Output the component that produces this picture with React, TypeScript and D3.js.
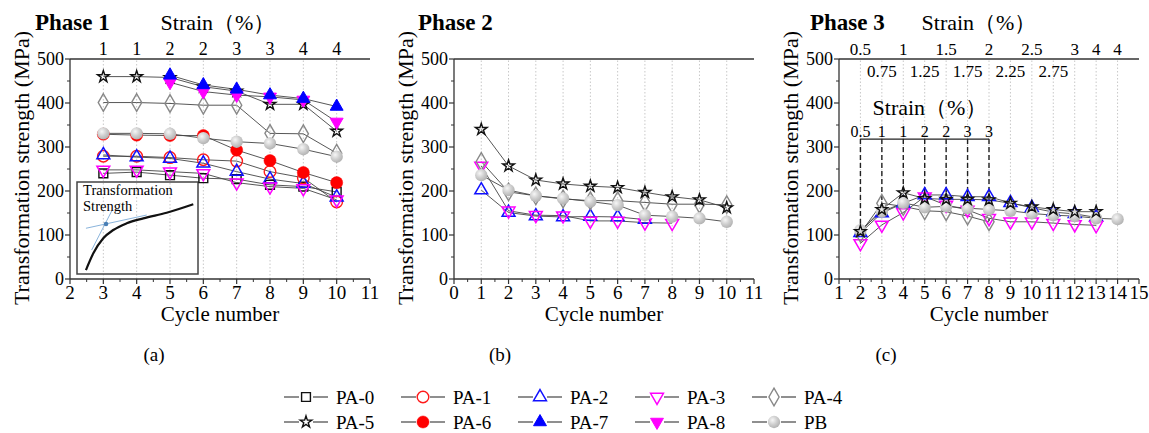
import React from 'react';
import * as d3 from 'd3';

const W = 1149;
const H = 433;
const FONT = 'Liberation Serif';

// ---------- Phase 1 ----------
const p1Cycles = [3, 4, 5, 6, 7, 8, 9, 10];
const p1Strain = ['1', '1', '2', '2', '3', '3', '4', '4'];
const p1PA0 = [240, 243, 236, 229, 227, 214, 210, 198];
const p1PA1 = [279, 279, 276, 271, 268, 244, 230, 175];
const p1PA2 = [282, 277, 274, 263, 244, 227, 217, 186];
const p1PA3 = [248, 248, 244, 240, 219, 210, 206, 180];
const p1PA4 = [401, 401, 399, 395, 395, 331, 330, 286];
const p1PA5 = [460, 460, 458, 437, 427, 397, 397, 336];
const p1PA6 = [329, 327, 326, 326, 293, 269, 242, 219];
const p1PA7 = [null, null, 463, 441, 431, 418, 410, 392];
const p1PA8 = [null, null, 447, 426, 418, 414, 407, 357];
const p1PB = [331, 331, 330, 320, 312, 308, 295, 278];

// ---------- Phase 2 ----------
const p2Cycles = [1, 2, 3, 4, 5, 6, 7, 8, 9, 10];
const p2PA2 = [202, 151, 143, 141, 142, 141, 135, null, null, null];
const p2PA3 = [257, 155, 145, 144, 132, 132, 128, 127, null, null];
const p2PA4 = [267, 198, 189, 182, 178, 178, 174, 170, 170, 169];
const p2PA5 = [340, 257, 225, 216, 211, 208, 197, 187, 180, 162];
const p2PB = [236, 202, 189, 183, 176, 168, 145, 142, 138, 130];

// ---------- Phase 3 ----------
const p3Cycles = [2, 3, 4, 5, 6, 7, 8, 9, 10, 11, 12, 13, 14];
const p3StrainTop = ['0.5', '0.75', '1', '1.25', '1.5', '1.75', '2', '2.25', '2.5', '2.75', '3', '4', '4'];
const p3PA2 = [105, 150, 172, 191, 191, 187, 187, 173, 162, 152, 148, 140, null];
const p3PA3 = [81, 123, 151, 187, 168, 157, 138, 130, 130, 127, 124, 122, null];
const p3PA4 = [104, 172, 165, 155, 153, 143, 130, null, null, null, null, null, null];
const p3PA5 = [108, 158, 196, 183, 181, 181, 180, 172, 164, 158, 153, 153, null];
const p3PB = [111, 153, 173, 163, 165, 161, 158, 155, 149, 145, 143, 138, 136];
const p3DashCycles = [2, 3, 4, 5, 6, 7, 8];
const p3DashTop = 318;
const p3DashEnd = [112, 172, 196, 190, 185, 180, 132];
const p3InnerStrain = ['0.5', '1', '1', '2', '2', '3', '3'];

// ---------- Inset (normalised strain / stress) ----------
const insetCurveX = [0.074, 0.135, 0.217, 0.3, 0.411, 0.548, 0.741, 0.961];
const insetCurveY = [0.043, 0.225, 0.388, 0.478, 0.551, 0.605, 0.666, 0.758];
const insetTan1 = [[0.074, 0.497], [0.576, 0.641]];
const insetTan2 = [[0.121, 0.261], [0.287, 0.685]];
const insetDot = [0.24, 0.543];

// ---------- Legend ----------
const legendRow1 = ['PA-0', 'PA-1', 'PA-2', 'PA-3', 'PA-4'];
const legendRow2 = ['PA-5', 'PA-6', 'PA-7', 'PA-8', 'PB'];
const drawOrder = ['PA-0', 'PA-1', 'PA-2', 'PA-3', 'PA-4', 'PA-6', 'PB', 'PA-5', 'PA-8', 'PA-7'];

type Ser = { name: string; values: (number | null)[] };

const PLOT_TOP = 59;
const PLOT_BOTTOM = 279;
const PLOT_W = 300;

function T(props: any) {
  const { size, bold, children, style, ...rest } = props;
  return (
    <text {...rest} style={{ fontFamily: FONT, fontSize: size, fontWeight: bold ? 700 : 400, ...(style || {}) }}>
      {children}
    </text>
  );
}

function markerPath(name: string): { d: string; fill: string; stroke: string; sw: number; rot: number } {
  const tri = d3.symbol().type(d3.symbolTriangle).size(72)() as string;
  switch (name) {
    case 'PA-0':
      return { d: d3.symbol().type(d3.symbolSquare).size(78)() as string, fill: 'none', stroke: '#111', sw: 1.4, rot: 0 };
    case 'PA-1':
      return { d: d3.symbol().type(d3.symbolCircle).size(105)() as string, fill: 'none', stroke: '#ff1a1a', sw: 1.4, rot: 0 };
    case 'PA-2':
      return { d: tri, fill: 'none', stroke: '#1010ff', sw: 1.5, rot: 0 };
    case 'PA-3':
      return { d: tri, fill: 'none', stroke: '#ff00ff', sw: 1.5, rot: 180 };
    case 'PA-4':
      return { d: d3.symbol().type(d3.symbolDiamond).size(90)() as string, fill: 'none', stroke: '#888', sw: 1.4, rot: 0 };
    case 'PA-5':
      return { d: d3.symbol().type(d3.symbolStar).size(42)() as string, fill: 'none', stroke: '#111', sw: 1.4, rot: 0 };
    case 'PA-6':
      return { d: d3.symbol().type(d3.symbolCircle).size(115)() as string, fill: '#ff0000', stroke: '#ff0000', sw: 0.5, rot: 0 };
    case 'PA-7':
      return { d: tri, fill: '#0000ff', stroke: '#0000ff', sw: 1, rot: 0 };
    case 'PA-8':
      return { d: tri, fill: '#ff00ff', stroke: '#ff00ff', sw: 1, rot: 180 };
    default:
      return { d: d3.symbol().type(d3.symbolCircle).size(120)() as string, fill: 'url(#pbGrad)', stroke: 'none', sw: 0, rot: 0 };
  }
}

function Marker({ name, x, y }: { name: string; x: number; y: number }) {
  const m = markerPath(name);
  return (
    <path
      d={m.d}
      transform={`translate(${x},${y}) rotate(${m.rot})`}
      fill={m.fill}
      stroke={m.stroke}
      strokeWidth={m.sw}
    />
  );
}

function Panel({
  left, xMin, xMax, cycles, series, gridCycles, children,
}: {
  left: number; xMin: number; xMax: number; cycles: number[]; series: Ser[]; gridCycles: number[]; children?: any;
}) {
  const x = d3.scaleLinear().domain([xMin, xMax]).range([left, left + PLOT_W]);
  const y = d3.scaleLinear().domain([0, 500]).range([PLOT_BOTTOM, PLOT_TOP]);
  const line = d3.line<[number, number]>().x((d) => x(d[0])).y((d) => y(d[1]));
  const ordered = drawOrder.map((n) => series.find((s) => s.name === n)).filter(Boolean) as Ser[];
  const pts = (s: Ser) =>
    cycles.map((c, i) => [c, s.values[i]] as [number, number | null]).filter((p) => p[1] != null) as [number, number][];
  const yMajor = d3.range(0, 501, 100);
  const yMinor = d3.range(50, 500, 100);
  const xMajor = d3.range(xMin, xMax + 1, 1);
  const xMinor = d3.range(xMin + 0.5, xMax, 1);
  return (
    <g>
      {gridCycles.map((c) => (
        <line key={'g' + c} x1={x(c)} x2={x(c)} y1={y(0)} y2={y(500)} stroke="#c8c8c8" strokeWidth={1} strokeDasharray="1.5,2" />
      ))}
      {children}
      {ordered.map((s) => (
        <path key={'l' + s.name} d={line(pts(s)) || ''} fill="none" stroke="#444" strokeWidth={0.9} />
      ))}
      {ordered.map((s) =>
        pts(s).map((p, i) => <Marker key={s.name + i} name={s.name} x={x(p[0])} y={y(p[1])} />)
      )}
      <line x1={left} x2={left} y1={PLOT_TOP} y2={PLOT_BOTTOM} stroke="#333" strokeWidth={1.3} />
      <line x1={left} x2={left + PLOT_W} y1={PLOT_BOTTOM} y2={PLOT_BOTTOM} stroke="#333" strokeWidth={1.3} />
      <line x1={left} x2={left + PLOT_W} y1={PLOT_TOP} y2={PLOT_TOP} stroke="#333" strokeWidth={1.3} />
      {yMajor.map((v) => (
        <g key={'ym' + v}>
          <line x1={left - 5} x2={left} y1={y(v)} y2={y(v)} stroke="#333" strokeWidth={1.2} />
          <T x={left - 6} y={y(v) + 6} textAnchor="end" size={18}>{v}</T>
        </g>
      ))}
      {yMinor.map((v) => (
        <line key={'yn' + v} x1={left - 3} x2={left} y1={y(v)} y2={y(v)} stroke="#333" strokeWidth={1} />
      ))}
      {xMajor.map((v) => (
        <g key={'xm' + v}>
          <line x1={x(v)} x2={x(v)} y1={PLOT_BOTTOM} y2={PLOT_BOTTOM + 5} stroke="#333" strokeWidth={1.2} />
          <T x={x(v)} y={PLOT_BOTTOM + 20} textAnchor="middle" size={19}>{v}</T>
        </g>
      ))}
      {xMinor.map((v) => (
        <line key={'xn' + v} x1={x(v)} x2={x(v)} y1={PLOT_BOTTOM} y2={PLOT_BOTTOM + 3} stroke="#333" strokeWidth={1} />
      ))}
      <T x={left + PLOT_W / 2} y={321} textAnchor="middle" size={21}>Cycle number</T>
      <T transform={`translate(${left - 41},168) rotate(-90)`} textAnchor="middle" size={22}>
        Transformation strength (MPa)
      </T>
    </g>
  );
}

function Inset() {
  const ix = d3.scaleLinear().domain([0, 1]).range([77, 198]);
  const iy = d3.scaleLinear().domain([0, 1]).range([274, 182]);
  const curve = d3
    .line<number>()
    .x((d) => ix(d))
    .y((_, i) => iy(insetCurveY[i]))
    .curve(d3.curveMonotoneX);
  const seg = (p: number[][]) => `M${ix(p[0][0])},${iy(p[0][1])}L${ix(p[1][0])},${iy(p[1][1])}`;
  return (
    <g>
      <rect x={ix(0)} y={iy(1)} width={ix(1) - ix(0)} height={iy(0) - iy(1)} fill="none" stroke="#444" strokeWidth={1.5} />
      <T x={ix(0.05)} y={iy(0.86)} size={14.5}>Transformation</T>
      <T x={ix(0.05)} y={iy(0.68)} size={14.5}>Strength</T>
      <path d={seg(insetTan1)} stroke="#8ab4dc" strokeWidth={1} fill="none" />
      <path d={seg(insetTan2)} stroke="#8ab4dc" strokeWidth={1} fill="none" />
      <path d={curve(insetCurveX) || ''} stroke="#111" strokeWidth={2.2} fill="none" />
      <circle cx={ix(insetDot[0])} cy={iy(insetDot[1])} r={2.3} fill="#4a7fb5" />
    </g>
  );
}

export default function App() {
  const leftA = 70, leftB = 454, leftC = 839;
  const xA = d3.scaleLinear().domain([2, 11]).range([leftA, leftA + PLOT_W]);
  const xC = d3.scaleLinear().domain([1, 15]).range([leftC, leftC + PLOT_W]);
  const y = d3.scaleLinear().domain([0, 500]).range([PLOT_BOTTOM, PLOT_TOP]);

  const s1: Ser[] = [
    { name: 'PA-0', values: p1PA0 }, { name: 'PA-1', values: p1PA1 }, { name: 'PA-2', values: p1PA2 },
    { name: 'PA-3', values: p1PA3 }, { name: 'PA-4', values: p1PA4 }, { name: 'PA-5', values: p1PA5 },
    { name: 'PA-6', values: p1PA6 }, { name: 'PA-7', values: p1PA7 }, { name: 'PA-8', values: p1PA8 },
    { name: 'PB', values: p1PB },
  ];
  const s2: Ser[] = [
    { name: 'PA-2', values: p2PA2 }, { name: 'PA-3', values: p2PA3 }, { name: 'PA-4', values: p2PA4 },
    { name: 'PA-5', values: p2PA5 }, { name: 'PB', values: p2PB },
  ];
  const s3: Ser[] = [
    { name: 'PA-2', values: p3PA2 }, { name: 'PA-3', values: p3PA3 }, { name: 'PA-4', values: p3PA4 },
    { name: 'PA-5', values: p3PA5 }, { name: 'PB', values: p3PB },
  ];

  const legendX = (i: number) => 306 + i * 117;
  const legendEntry = (name: string, i: number, cy: number) => {
    const cx = legendX(i);
    return (
      <g key={'lg' + name}>
        <line x1={cx - 22} x2={cx - 7} y1={cy} y2={cy} stroke="#333" strokeWidth={1.1} />
        <line x1={cx + 7} x2={cx + 22} y1={cy} y2={cy} stroke="#333" strokeWidth={1.1} />
        <Marker name={name} x={cx} y={cy} />
        <T x={cx + 30} y={cy + 6.5} size={19}>{name}</T>
      </g>
    );
  };

  return (
    <svg width={W} height={H} style={{ position: 'absolute', left: 0, top: 0, background: '#fff', fontFamily: FONT }}>
      <defs>
        <radialGradient id="pbGrad" cx="38%" cy="35%" r="65%">
          <stop offset="0%" stopColor="#f6f6f6" />
          <stop offset="55%" stopColor="#cfcfcf" />
          <stop offset="100%" stopColor="#b4b4b4" />
        </radialGradient>
      </defs>
      <rect x={0} y={0} width={W} height={H} fill="#fff" />

      {/* Panel a */}
      <Panel left={leftA} xMin={2} xMax={11} cycles={p1Cycles} series={s1} gridCycles={p1Cycles}>
        <Inset />
      </Panel>
      <T x={35} y={30} size={23} bold>Phase 1</T>
      <T x={218} y={30} textAnchor="middle" size={22}>Strain（%）</T>
      {p1Cycles.map((c, i) => (
        <T key={'st1' + c} x={xA(c)} y={55} textAnchor="middle" size={18}>{p1Strain[i]}</T>
      ))}

      {/* Panel b */}
      <Panel left={leftB} xMin={0} xMax={11} cycles={p2Cycles} series={s2} gridCycles={p2Cycles} />
      <T x={418} y={30} size={23} bold>Phase 2</T>

      {/* Panel c */}
      <Panel left={leftC} xMin={1} xMax={15} cycles={p3Cycles} series={s3} gridCycles={p3Cycles}>
        <g>
          {p3DashCycles.map((c, i) => (
            <line key={'dl' + c} x1={xC(c)} x2={xC(c)} y1={y(p3DashTop)} y2={y(p3DashEnd[i])} stroke="#222" strokeWidth={1.4} strokeDasharray="5,3" />
          ))}
          <line x1={xC(p3DashCycles[0])} x2={xC(p3DashCycles[p3DashCycles.length - 1])} y1={y(p3DashTop)} y2={y(p3DashTop)} stroke="#222" strokeWidth={1.4} />
          {p3DashCycles.map((c, i) => (
            <T key={'is' + c} x={xC(c)} y={y(p3DashTop) - 2} textAnchor="middle" size={16}>{p3InnerStrain[i]}</T>
          ))}
          <T x={930} y={115} textAnchor="middle" size={22}>Strain（%）</T>
        </g>
      </Panel>
      <T x={810} y={30} size={23} bold>Phase 3</T>
      <T x={979} y={30} textAnchor="middle" size={22}>Strain（%）</T>
      {p3Cycles.map((c, i) => (
        <T key={'st3' + c} x={xC(c)} y={i % 2 === 0 || i > 10 ? 55 : 77} textAnchor="middle" size={17}>
          {p3StrainTop[i]}
        </T>
      ))}

      <T x={154} y={361} textAnchor="middle" size={19}>(a)</T>
      <T x={500} y={361} textAnchor="middle" size={19}>(b)</T>
      <T x={886} y={361} textAnchor="middle" size={19}>(c)</T>

      {legendRow1.map((n, i) => legendEntry(n, i, 397))}
      {legendRow2.map((n, i) => legendEntry(n, i, 422))}
    </svg>
  );
}
